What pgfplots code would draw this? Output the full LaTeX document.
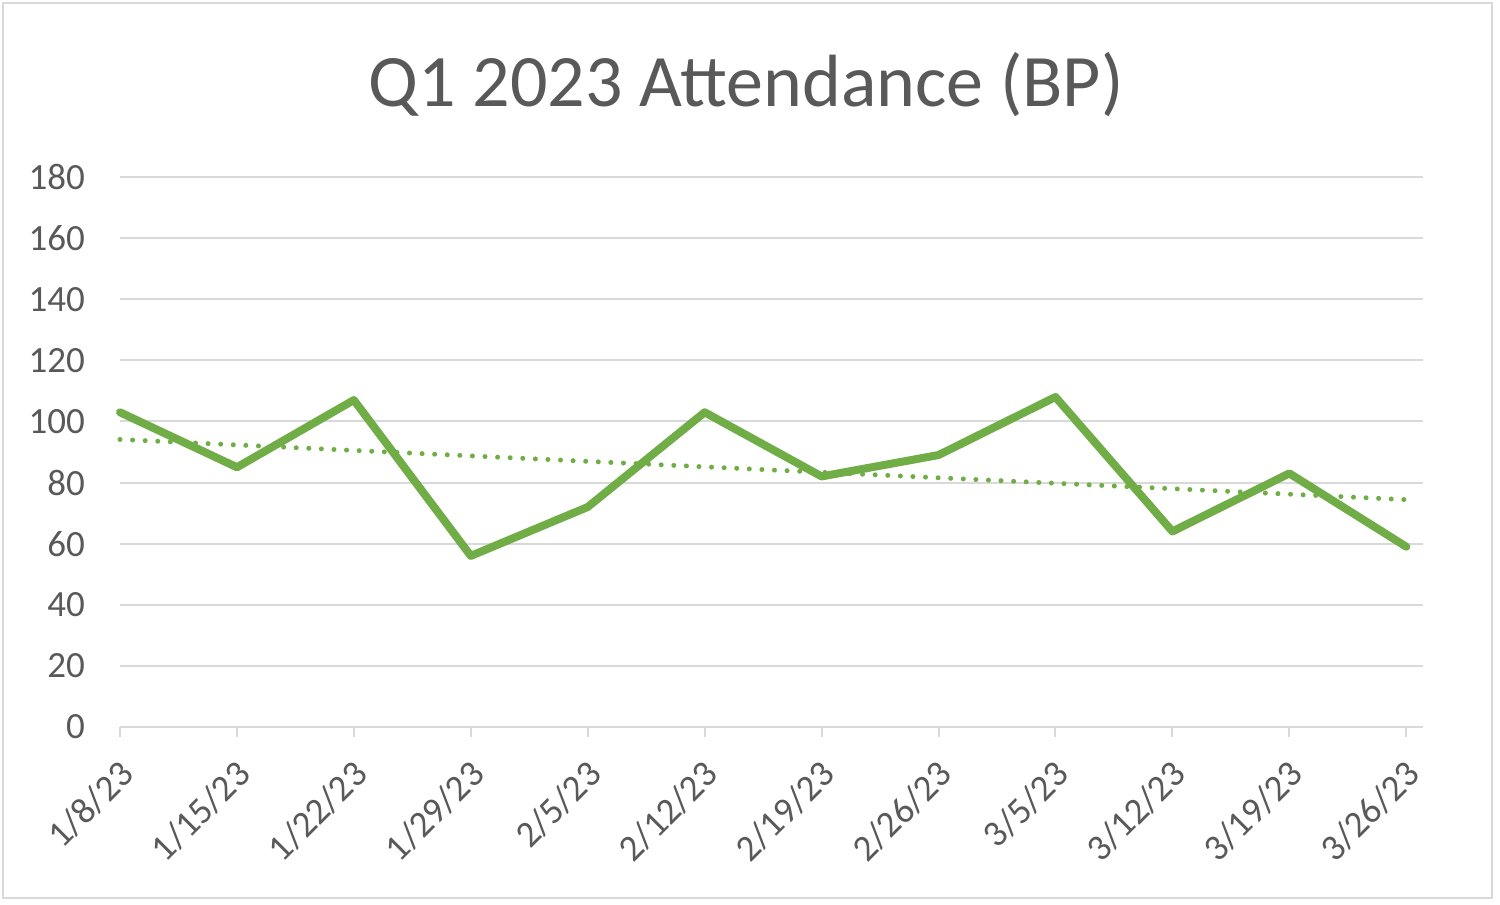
\documentclass[border=0pt]{standalone}
\usepackage{fontspec}
\setmainfont{Carlito}
\usepackage{pgfplots}
\pgfplotsset{compat=1.18}
\definecolor{grn}{HTML}{70AD47}
\definecolor{txt}{HTML}{595959}
\definecolor{gridc}{HTML}{D9D9D9}
\begin{document}
\begin{tikzpicture}[x=1pt,y=1pt]
\path[use as bounding box] (0,0) rectangle (750,452.5);
\draw[gridc, line width=1pt] (1.5,3.5) rectangle (746,451);
\node[font=\fontsize{37}{44}\selectfont, text=txt] at (373,410) {Q1 2023 Attendance (BP)};
\begin{axis}[
  at={(60pt,89pt)}, anchor=south west,
  width=651.5pt, height=275pt, scale only axis,
  xmin=0, xmax=11.143, ymin=0, ymax=180,
  xtick={0,...,11},
  xticklabels={1/8/23,1/15/23,1/22/23,1/29/23,2/5/23,2/12/23,2/19/23,2/26/23,3/5/23,3/12/23,3/19/23,3/26/23},
  ytick={0,20,...,180},
  ymajorgrids,
  grid style={gridc, line width=1pt},
  axis line style={draw=none},
  tick pos=left,
  xtick align=outside,
  major tick length=5pt,
  xtick style={gridc, line width=1pt},
  ytick style={draw=none},
  tick label style={font=\fontsize{18.5}{22}\selectfont, text=txt},
  /pgf/number format/assume math mode=true,
  yticklabel style={xshift=-14pt},
  xticklabel style={xshift=6pt, yshift=-13pt, rotate=45, anchor=east},
  clip=false,
]
\addplot[grn, line width=4pt, line join=round, line cap=round] coordinates {(0,103)(1,85)(2,107)(3,56)(4,72)(5,103)(6,82)(7,89)(8,108)(9,64)(10,83)(11,59)};
\addplot[grn, line width=2.5pt, line cap=round, dash pattern=on 0pt off 6.3pt] coordinates {(0,94.1)(11,74.4)};
\end{axis}
\end{tikzpicture}
\end{document}
